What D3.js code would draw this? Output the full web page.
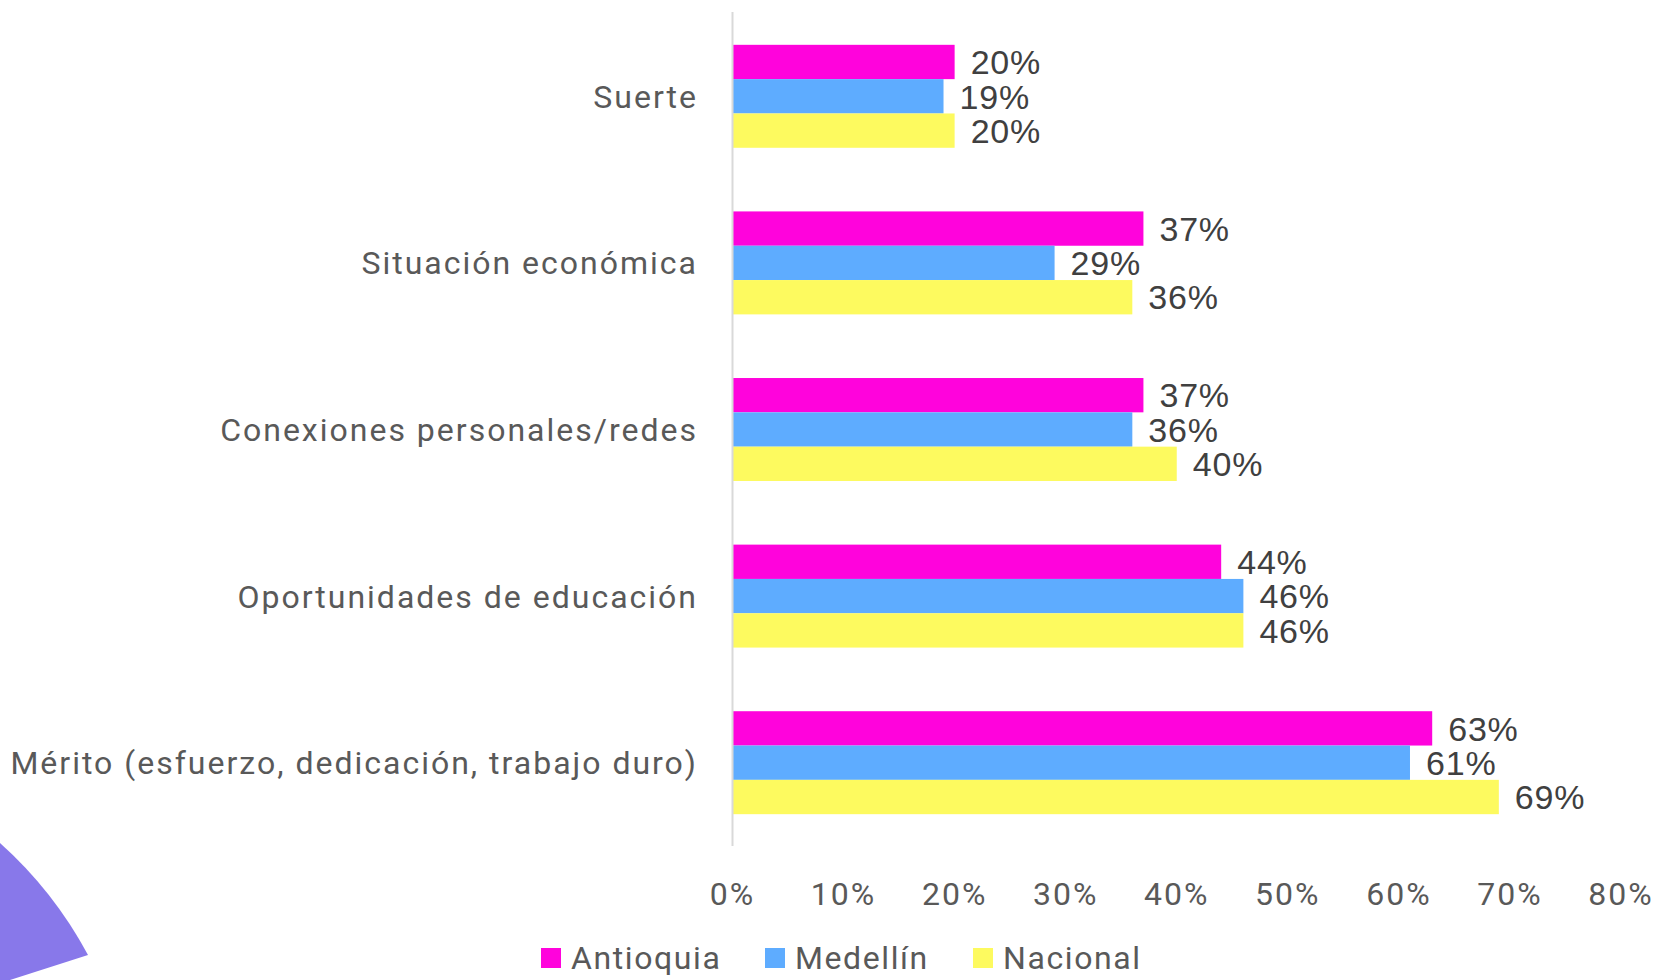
<!DOCTYPE html>
<html>
<head>
<meta charset="utf-8">
<script src="https://cdn.jsdelivr.net/npm/d3@7"></script>
<style>
  body { margin: 0; background: #fff; }
  svg { display: block; }
</style>
</head>
<body>
<script>
// data
var categories = ["Suerte", "Situación económica", "Conexiones personales/redes",
                  "Oportunidades de educación", "Mérito (esfuerzo, dedicación, trabajo duro)"];
var seriesNames = ["Antioquia", "Medellín", "Nacional"];
var antioquia = [0.20, 0.37, 0.37, 0.44, 0.63];
var medellin  = [0.19, 0.29, 0.36, 0.46, 0.61];
var nacional  = [0.20, 0.36, 0.40, 0.46, 0.69];
var tickValues = [0, 0.1, 0.2, 0.3, 0.4, 0.5, 0.6, 0.7, 0.8];

var colors = ["#ff03dc", "#5eacff", "#fdfa5f"];
var seriesValues = [antioquia, medellin, nacional];

var w = 1662,
    h = 980;

var svg = d3.select("body").append("svg")
    .attr("width", w)
    .attr("height", h);

// purple decoration bottom left
svg.append("path")
    .attr("d", "M0,843 A411,411 0 0,1 88,955 L10,980 L0,980 Z")
    .attr("fill", "#8878ea");

var x = d3.scaleLinear().domain([0, 0.8]).range([732.5, 1621]);

var y = d3.scaleBand().domain(categories).range([13, 846])
    .paddingInner(0.382).paddingOuter(0.191);

var ySub = d3.scaleBand().domain(seriesNames).range([0, y.bandwidth()]);

var rows = categories.map((c, i) => ({
    cat: c,
    vals: seriesNames.map((s, j) => ({ series: s, idx: j, value: seriesValues[j][i] }))
}));

var groups = svg.selectAll("g.cat")
    .data(rows)
    .enter().append("g")
    .attr("class", "cat")
    .attr("transform", d => "translate(0," + y(d.cat) + ")");

groups.selectAll("rect")
    .data(d => d.vals)
    .enter().append("rect")
    .attr("x", x(0))
    .attr("y", d => ySub(d.series))
    .attr("width", d => x(d.value) - x(0))
    .attr("height", ySub.bandwidth())
    .attr("fill", d => colors[d.idx]);

groups.selectAll("text.val")
    .data(d => d.vals)
    .enter().append("text")
    .attr("class", "val")
    .attr("x", d => x(d.value) + 16)
    .attr("y", d => ySub(d.series) + ySub.bandwidth() / 2)
    .attr("dy", "0.36em")
    .style("font-family", "'Liberation Sans', Arial, sans-serif")
    .style("font-size", "34px")
    .style("letter-spacing", "0.8px")
    .style("fill", "#404040")
    .text(d => Math.round(d.value * 100) + "%");

// axis line
svg.append("line")
    .attr("x1", x(0)).attr("x2", x(0))
    .attr("y1", 12).attr("y2", 846)
    .attr("stroke", "#d9d9d9")
    .attr("stroke-width", 2);

// category labels
svg.selectAll("text.cat")
    .data(categories)
    .enter().append("text")
    .attr("class", "cat")
    .attr("x", 698)
    .attr("y", d => y(d) + y.bandwidth() / 2)
    .attr("dy", "0.36em")
    .attr("text-anchor", "end")
    .style("font-family", "Roboto, sans-serif")
    .style("font-size", "32px")
    .style("letter-spacing", "2px")
    .style("fill", "#595959")
    .text(d => d);

// x tick labels
svg.selectAll("text.tick")
    .data(tickValues)
    .enter().append("text")
    .attr("class", "tick")
    .attr("x", d => x(d))
    .attr("y", 893)
    .attr("dy", "0.36em")
    .attr("text-anchor", "middle")
    .style("font-family", "Roboto, sans-serif")
    .style("font-size", "32px")
    .style("letter-spacing", "2px")
    .style("fill", "#595959")
    .text(d3.format(".0%"));

// legend
var legendX = [541, 765, 973];
var legend = svg.selectAll("g.legend")
    .data(seriesNames)
    .enter().append("g")
    .attr("class", "legend")
    .attr("transform", (d, i) => "translate(" + legendX[i] + ",948)");

legend.append("rect")
    .attr("width", 20).attr("height", 20)
    .attr("fill", (d, i) => colors[i]);

legend.append("text")
    .attr("x", 30)
    .attr("y", 10)
    .attr("dy", "0.34em")
    .style("font-family", "Roboto, sans-serif")
    .style("font-size", "32px")
    .style("letter-spacing", "1.6px")
    .style("fill", "#595959")
    .text(d => d);
</script>
</body>
</html>
